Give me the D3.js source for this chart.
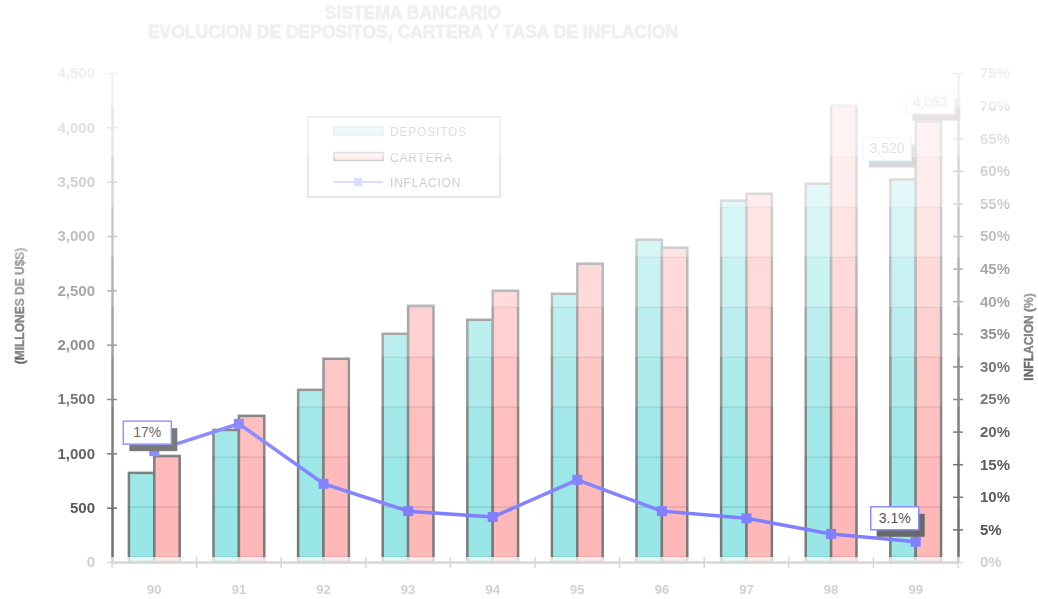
<!DOCTYPE html>
<html>
<head>
<meta charset="utf-8">
<script src="https://cdn.jsdelivr.net/npm/d3@7"></script>
<style>
  body { margin: 0; background: #fff; }
  svg { display: block; }
  text { font-family: "Liberation Sans", Arial, sans-serif; }
</style>
</head>
<body>
<svg id="chart" width="1038" height="599"></svg>
<script>
// ---- data ----
const categories = ["90", "91", "92", "93", "94", "95", "96", "97", "98", "99"];
const depositos  = [820, 1215, 1584, 2100, 2229, 2468, 2966, 3325, 3481, 3520];
const cartera    = [976, 1345, 1870, 2358, 2496, 2745, 2892, 3389, 4200, 4053];
const inflacion  = [17, 21.2, 12.0, 7.8, 6.9, 12.6, 7.8, 6.7, 4.3, 3.1];
const leftTicks  = [0, 500, 1000, 1500, 2000, 2500, 3000, 3500, 4000, 4500];
const rightTicks = [0, 5, 10, 15, 20, 25, 30, 35, 40, 45, 50, 55, 60, 65, 70, 75];
const seriesNames = ["DEPOSITOS", "CARTERA", "INFLACION"];
const titleLines = ["SISTEMA BANCARIO", "EVOLUCION DE DEPOSITOS, CARTERA Y TASA DE INFLACION"];

// ---- styling ----
const colors = { DEPOSITOS: "#98e6e6", CARTERA: "#ffb8b8", INFLACION: "#7f7fff" };
const textColor = "#555";
const axisColor = "#6f6f6f";

const W = 1038, H = 599;
const plot = { left: 112, right: 958, top: 73, bottom: 562 };

const svg = d3.select("#chart");
const defs = svg.append("defs");

// horizontal fading bands applied over the whole drawing
const bandStart = 7, bandStep = 50;
const fadeLevels = [0.08, 0.1, 0.18, 0.27, 0.38, 0.52, 0.66, 0.8, 0.9, 0.96, 1, 0.28];
const mask = defs.append("mask").attr("id", "fade")
  .attr("maskUnits", "userSpaceOnUse")
  .attr("x", 0).attr("y", 0).attr("width", W).attr("height", H);
mask.selectAll("rect").data(fadeLevels).join("rect")
  .attr("x", 0).attr("width", W)
  .attr("y", (d, i) => i === 0 ? 0 : bandStart + i * bandStep)
  .attr("height", (d, i) => i === 0 ? bandStart + bandStep : (i === fadeLevels.length - 1 ? H : bandStep))
  .attr("fill", "#fff").attr("fill-opacity", d => d);

const g = svg.append("g").attr("mask", "url(#fade)");

// ---- scales ----
const x = d3.scaleBand().domain(categories).range([plot.left, plot.right]);
const bw = x.bandwidth();
const x1 = d3.scaleBand().domain(["DEPOSITOS", "CARTERA"]).range([0.2 * bw, 0.8 * bw]);
const yL = d3.scaleLinear().domain([0, 4500]).range([plot.bottom, plot.top]);
const yR = d3.scaleLinear().domain([0, 75]).range([plot.bottom, plot.top]);

// ---- title ----
g.append("g").selectAll("text").data(titleLines).join("text")
  .attr("x", 413).attr("y", (d, i) => 19 + i * 19)
  .attr("text-anchor", "middle")
  .attr("font-size", 17.5).attr("font-weight", 900)
  .attr("fill", "#333").attr("stroke", "#333").attr("stroke-width", 0.8)
  .text(d => d);

// ---- bars ----
const barData = [];
categories.forEach((c, i) => {
  barData.push({ cat: c, key: "DEPOSITOS", value: depositos[i] });
  barData.push({ cat: c, key: "CARTERA", value: cartera[i] });
});

const barRect = sel => sel
  .attr("x", d => x(d.cat) + x1(d.key))
  .attr("y", d => yL(d.value))
  .attr("width", x1.bandwidth())
  .attr("height", d => yL(0) - yL(d.value));

g.append("g").selectAll("rect").data(barData).join("rect")
  .call(barRect)
  .attr("fill", d => colors[d.key])
  .attr("stroke", "#7a7a7a").attr("stroke-width", 2.5);

// faint seams where the fading bands meet, visible across the bars
const clip = defs.append("clipPath").attr("id", "barClip");
clip.selectAll("rect").data(barData).join("rect").call(barRect);
const seams = d3.range(1, fadeLevels.length).map(i => bandStart + i * bandStep);
g.append("g").attr("clip-path", "url(#barClip)")
  .selectAll("line").data(seams).join("line")
  .attr("x1", plot.left).attr("x2", plot.right)
  .attr("y1", d => d).attr("y2", d => d)
  .attr("stroke", "#000").attr("stroke-opacity", 0.16).attr("stroke-width", 1);

// ---- axes ----
const crossTicks = (sel, a, b) => sel.selectAll(".tick line").attr(a, -5).attr(b, 5);
const tickFont = sel => sel.attr("fill", textColor).attr("font-size", 15)
  .attr("font-weight", "bold").attr("font-family", "Liberation Sans, Arial, sans-serif");

const axL = g.append("g").attr("transform", `translate(${plot.left},0)`)
  .call(d3.axisLeft(yL).tickValues(leftTicks).tickFormat(d3.format(",")).tickSizeOuter(0));
axL.select(".domain").attr("stroke", axisColor).attr("stroke-width", 2.5);
axL.selectAll(".tick line").attr("stroke", axisColor).attr("stroke-width", 1.5);
crossTicks(axL, "x1", "x2");
axL.selectAll(".tick text").attr("x", -17).call(tickFont);

const axR = g.append("g").attr("transform", `translate(${plot.right},0)`)
  .call(d3.axisRight(yR).tickValues(rightTicks).tickFormat(d => d + "%").tickSizeOuter(0));
axR.select(".domain").attr("stroke", axisColor).attr("stroke-width", 2.5);
axR.selectAll(".tick line").attr("stroke", axisColor).attr("stroke-width", 1.5);
crossTicks(axR, "x1", "x2");
axR.selectAll(".tick text").attr("x", 22).call(tickFont);

const axB = g.append("g").attr("transform", `translate(0,${plot.bottom})`)
  .call(d3.axisBottom(x).tickSize(0).tickSizeOuter(0));
axB.select(".domain").attr("stroke", axisColor).attr("stroke-width", 2.5);
axB.selectAll(".tick text").attr("y", 32).attr("dy", 0).call(tickFont).attr("font-size", 13);
// cross marks on the category boundaries
const bounds = categories.map(c => x(c)).concat([plot.right]);
axB.append("g").selectAll("line").data(bounds).join("line")
  .attr("x1", d => d).attr("x2", d => d).attr("y1", -5).attr("y2", 6)
  .attr("stroke", axisColor).attr("stroke-width", 1.5);

// axis titles
g.append("text")
  .attr("transform", "translate(24,306) rotate(-90)")
  .attr("text-anchor", "middle").attr("font-size", 12).attr("font-weight", 900)
  .attr("fill", "#444").attr("stroke", "#444").attr("stroke-width", 0.4)
  .text("(MILLONES DE U$S)");
g.append("text")
  .attr("transform", "translate(1033,337) rotate(-90)")
  .attr("text-anchor", "middle").attr("font-size", 12).attr("font-weight", 900)
  .attr("fill", "#444").attr("stroke", "#444").attr("stroke-width", 0.4)
  .text("INFLACION (%)");

// ---- inflation line ----
const cx = c => x(c) + bw / 2;
const linePts = categories.map((c, i) => ({ cat: c, value: inflacion[i] }));
g.append("path").datum(linePts)
  .attr("fill", "none").attr("stroke", colors.INFLACION).attr("stroke-width", 3.5)
  .attr("d", d3.line().x(d => cx(d.cat)).y(d => yR(d.value)));
g.append("g").selectAll("rect").data(linePts).join("rect")
  .attr("x", d => cx(d.cat) - 5).attr("y", d => yR(d.value) - 5)
  .attr("width", 10).attr("height", 10)
  .attr("fill", colors.INFLACION);

// ---- value callouts ----
const callouts = [
  { i: 0, series: "INFLACION", dx: -7, dy: -19 },
  { i: 9, series: "INFLACION", dx: -21, dy: -24 },
  { i: 9, series: "DEPOSITOS", dx: -16, dy: -31 },
  { i: 9, series: "CARTERA",   dx: 2,   dy: -20 }
];
const fmtPct = v => (Number.isInteger(v) ? d3.format("d")(v) : d3.format(".1f")(v)) + "%";
const calloutPos = c => {
  const cat = categories[c.i];
  if (c.series === "INFLACION") return { x: cx(cat), y: yR(inflacion[c.i]), text: fmtPct(inflacion[c.i]) };
  const vals = c.series === "DEPOSITOS" ? depositos : cartera;
  return { x: x(cat) + x1(c.series) + x1.bandwidth() / 2, y: yL(vals[c.i]), text: d3.format(",")(vals[c.i]) };
};
const borderColors = { INFLACION: "#8a8aff", DEPOSITOS: "#a6ecec", CARTERA: "#ffbdbd" };
const cg = g.append("g").selectAll("g").data(callouts).join("g")
  .attr("transform", d => { const p = calloutPos(d); return `translate(${p.x + d.dx},${p.y + d.dy})`; });
cg.append("rect").attr("x", -24 + 6).attr("y", -11 + 7).attr("width", 48).attr("height", 23)
  .attr("fill", "#6a6a6a");
cg.append("rect").attr("x", -24).attr("y", -11).attr("width", 48).attr("height", 23)
  .attr("fill", "#fff").attr("stroke", d => borderColors[d.series]).attr("stroke-width", 1.5);
cg.append("text").attr("text-anchor", "middle").attr("y", 5)
  .attr("font-size", 14).attr("fill", "#555")
  .text(d => calloutPos(d).text);

// ---- legend ----
const lg = g.append("g").attr("transform", "translate(308,117)");
lg.append("rect").attr("width", 192).attr("height", 80)
  .attr("fill", "#fff").attr("stroke", "#8a8a8a").attr("stroke-width", 1.5);
const li = lg.selectAll("g.item").data(seriesNames).join("g").attr("class", "item")
  .attr("transform", (d, i) => `translate(26,${14 + i * 25.5})`);
li.filter(d => d !== "INFLACION").append("rect")
  .attr("x", 0).attr("y", -4).attr("width", 49).attr("height", 8)
  .attr("fill", d => colors[d]).attr("stroke", d => d === "CARTERA" ? "#555" : "#7fb0b0").attr("stroke-width", 1.5);
li.filter(d => d === "INFLACION").append("line")
  .attr("x1", 0).attr("x2", 49).attr("y1", 0).attr("y2", 0)
  .attr("stroke", colors.INFLACION).attr("stroke-width", 2);
li.filter(d => d === "INFLACION").append("rect")
  .attr("x", 20).attr("y", -4).attr("width", 8).attr("height", 8).attr("fill", colors.INFLACION);
li.append("text").attr("x", 56).attr("y", 5)
  .attr("font-size", 12).attr("letter-spacing", 0.8).attr("fill", "#444")
  .text(d => d);
</script>
</body>
</html>
